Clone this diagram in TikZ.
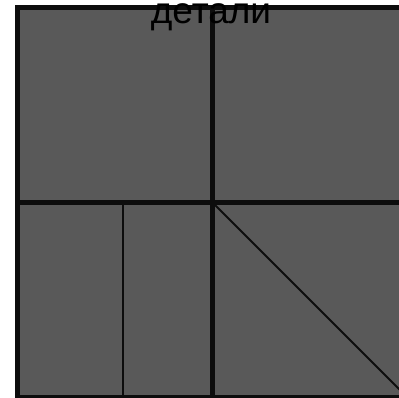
\documentclass[tikz,border=0pt]{standalone}
\usepackage{fontspec}
\setmainfont{Liberation Sans}
\definecolor{panelgray}{HTML}{595959}
\tikzset{
  frame/.style={line width=5pt,draw=black!95},
  cut/.style={line width=2pt,draw=black!95}
}
\begin{document}
\begin{tikzpicture}[x=1pt,y=-1pt]
\useasboundingbox (0,0) rectangle (399,397);
\clip (0,0) rectangle (399,397);
% sheet
\fill[panelgray] (17.5,7.5) rectangle (407.5,397.5);
% thin cuts
\draw[cut] (122.5,202.5) -- (122.5,397.5);
\draw[cut] (212.5,202.5) -- (407.5,397.5);
% thick frame and middle lines
\draw[frame] (17.5,7.5) rectangle (407.5,397.5);
\draw[frame] (212.5,7.5) -- (212.5,397.5);
\draw[frame] (17.5,202.5) -- (407.5,202.5);
\node[anchor=base,inner sep=0pt,font=\fontsize{37}{40}\selectfont] (title) at (211,23) {детали};
\end{tikzpicture}
\end{document}
